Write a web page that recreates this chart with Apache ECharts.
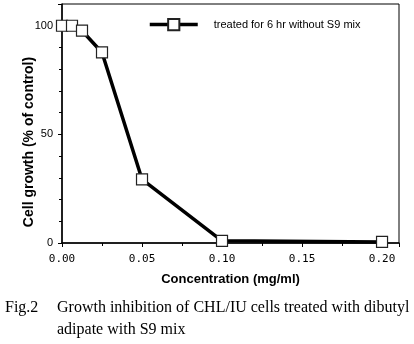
<!DOCTYPE html>
<html><head><meta charset="utf-8">
<script src="https://cdn.jsdelivr.net/npm/echarts@6/dist/echarts.min.js"></script>
<style>html,body{margin:0;padding:0;background:#fff}#c{width:414px;height:344px}</style>
</head><body><div id="c"></div>
<script>
const concentrations = [0, 0.00625, 0.0125, 0.025, 0.05, 0.10, 0.20];
const growth = [100, 100, 97.7, 87.7, 29.3, 1.0, 0.5];
const seriesName = 'treated for 6 hr without S9 mix';
const xTitle = 'Concentration (mg/ml)';
const yTitle = 'Cell growth (% of control)';
const captionLines = ['Growth inhibition of CHL/IU cells treated with dibutyl', 'adipate with S9 mix'];
const captionLabel = 'Fig.2';

const chart = echarts.init(document.getElementById('c'));
chart.setOption({
  animation: false,
  grid: {left: 62, right: 15, top: 4, bottom: 101, show: true, borderColor: '#000', borderWidth: 1},
  legend: {
    data: [seriesName], left: 143, top: 13, itemWidth: 48, itemHeight: 14, itemGap: 0,
    lineStyle: {width: 3.5, color: '#000'},
    textStyle: {fontFamily: 'Liberation Sans', fontSize: 11, color: '#000', padding: [0,0,0,11]}
  },
  xAxis: {
    type: 'value', min: 0, max: 0.2106, interval: 0.05,
    axisLine: {lineStyle: {color: '#000', width: 1.5}},
    axisTick: {length: 4, lineStyle: {color: '#000', width: 1}},
    minorTick: {show: true, splitNumber: 2, length: 3, lineStyle: {color: '#000'}},
    splitLine: {show: false},
    axisLabel: {showMaxLabel: false, margin: 11, fontFamily: 'DejaVu Sans Mono', fontSize: 11, color: '#000',
      formatter: v => v.toFixed(2)},
    name: xTitle, nameLocation: 'middle', nameGap: 30,
    nameTextStyle: {fontFamily: 'Liberation Sans', fontWeight: 'bold', fontSize: 13, color: '#000'}
  },
  yAxis: {
    type: 'value', min: 0, max: 110, interval: 50,
    axisLine: {lineStyle: {color: '#000', width: 1.5}},
    axisTick: {length: 4, lineStyle: {color: '#000', width: 1}},
    minorTick: {show: true, splitNumber: 5, length: 3, lineStyle: {color: '#000'}},
    splitLine: {show: false},
    axisLabel: {showMaxLabel: false, margin: 9, fontFamily: 'Liberation Sans', fontSize: 11, color: '#000'}
  },
  series: [{
    name: seriesName, type: 'line',
    data: concentrations.map((c, i) => [c, growth[i]]),
    symbol: 'rect', symbolSize: 11,
    lineStyle: {color: '#000', width: 3.5},
    itemStyle: {color: '#fff', borderColor: '#222', borderWidth: 1.2},
    clip: false
  }],
  graphic: [
    {type: 'text', x: 29, y: 142, rotation: Math.PI / 2,
      style: {text: yTitle, align: 'center', verticalAlign: 'middle', font: 'bold 14px "Liberation Sans"', fill: '#000'}},
    {type: 'text', x: 5, y: 308, style: {text: captionLabel, verticalAlign: 'middle', font: '16px "Liberation Serif"', fill: '#000'}},
    {type: 'text', x: 57, y: 308, style: {text: captionLines[0], verticalAlign: 'middle', font: '16px "Liberation Serif"', fill: '#000'}},
    {type: 'text', x: 57, y: 330, style: {text: captionLines[1], verticalAlign: 'middle', font: '16px "Liberation Serif"', fill: '#000'}}
  ]
});
</script></body></html>
